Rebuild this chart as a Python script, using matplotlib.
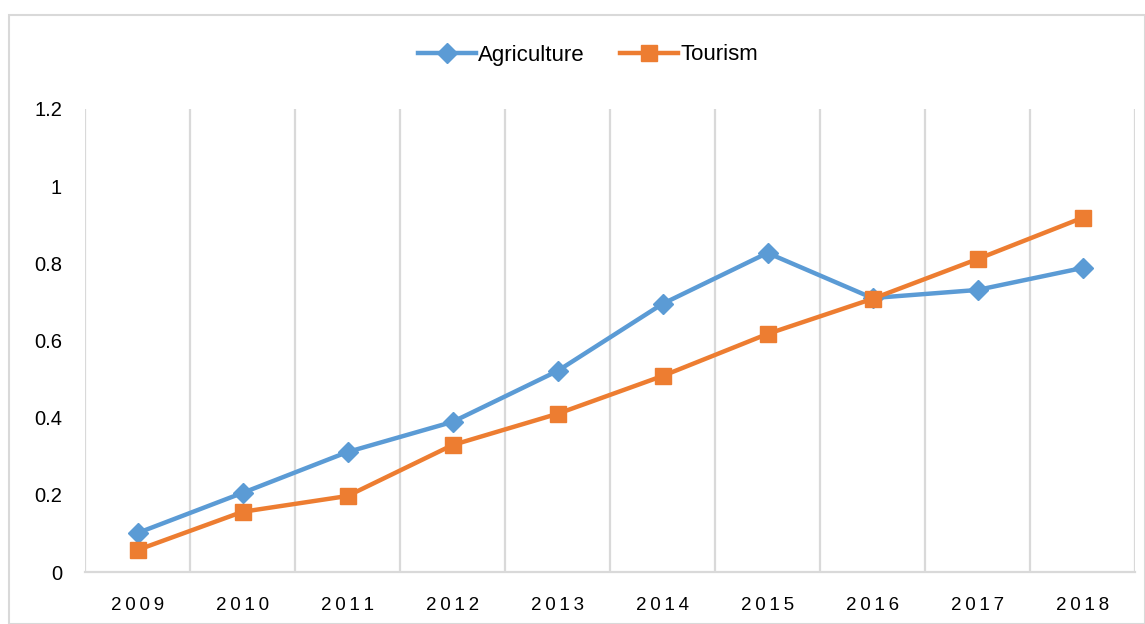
import matplotlib
matplotlib.use('Agg')
import matplotlib.pyplot as plt
import numpy as np
from matplotlib.patches import Rectangle

YEARS = ['2009', '2010', '2011', '2012', '2013', '2014', '2015', '2016', '2017', '2018']
AGRICULTURE = [0.101, 0.205, 0.311, 0.389, 0.521, 0.695, 0.827, 0.710, 0.731, 0.788]
TOURISM = [0.057, 0.156, 0.197, 0.329, 0.410, 0.508, 0.617, 0.708, 0.811, 0.918]
Y_TICKS = [0, 0.2, 0.4, 0.6, 0.8, 1.0, 1.2]
Y_TICK_LABELS = ['0', '0.2', '0.4', '0.6', '0.8', '1', '1.2']

BLUE = '#5B9BD5'
ORANGE = '#ED7D31'
GRID = '#D9D9D9'

plt.rcParams['font.family'] = ['Liberation Sans', 'DejaVu Sans']


def main():
    fig = plt.figure(figsize=(11.45, 6.24), dpi=100)
    W, H = 1145, 624
    # chart border
    fig.patches.append(Rectangle((9 / W, 0), (W - 9) / W, 1 - 15 / H, transform=fig.transFigure,
                                 fill=False, edgecolor=GRID, linewidth=1.5))

    ax = fig.add_axes([85 / W, 1 - 572 / H, (1135 - 85) / W, (572 - 109) / H])
    x = np.arange(len(YEARS))

    for b in np.arange(-0.5, len(YEARS), 1.0):
        ax.axvline(b, color=GRID, linewidth=1.6, zorder=0)

    ax.plot(x, AGRICULTURE, color=BLUE, linewidth=3.2, marker='D', markersize=10,
            label='Agriculture', zorder=3)
    ax.plot(x, TOURISM, color=ORANGE, linewidth=3.2, marker='s', markersize=11.5,
            label='Tourism', zorder=3)

    ax.set_xlim(-0.5, len(YEARS) - 0.5)
    ax.set_ylim(0, 1.2)
    ax.set_yticks(Y_TICKS)
    ax.set_yticklabels(Y_TICK_LABELS)
    ax.set_xticks(x)
    ax.set_xticklabels(['\u2009'.join(y) for y in YEARS])
    ax.tick_params(axis='y', length=0, pad=16.5, labelsize=14.5)
    ax.tick_params(axis='x', length=0, pad=18, labelsize=13.5)
    for s in ['top', 'right', 'left']:
        ax.spines[s].set_visible(False)
    ax.spines['bottom'].set_color(GRID)
    ax.spines['bottom'].set_linewidth(1.6)

    fig.legend(loc='center', bbox_to_anchor=(588 / W, 1 - 55 / H), ncol=2, frameon=False,
               fontsize=16, handlelength=2.6, columnspacing=1.6, handletextpad=0.1)

    fig.savefig('out.png', dpi=100)


if __name__ == '__main__':
    main()
